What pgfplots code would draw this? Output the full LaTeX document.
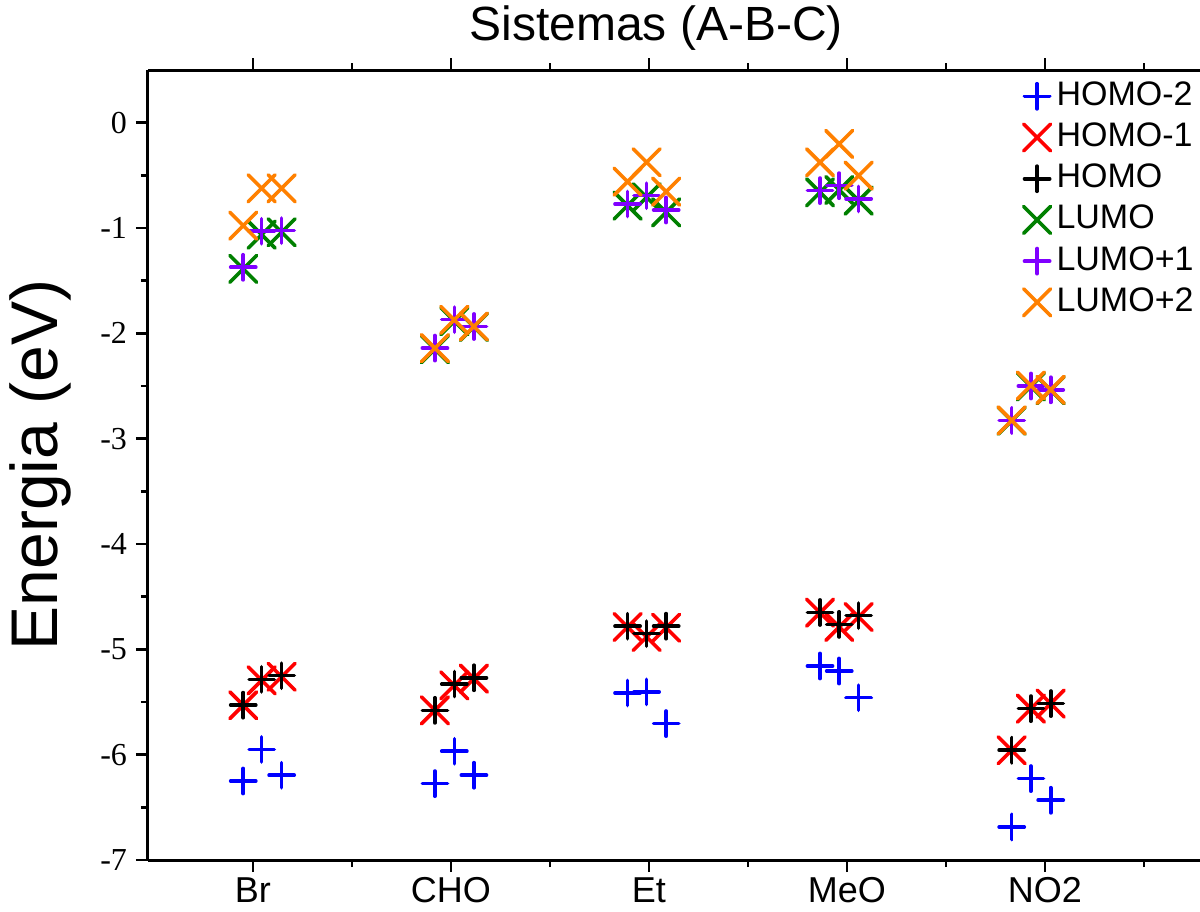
\documentclass[border=0pt]{standalone}
\usepackage{fontspec}
\setmainfont{Liberation Sans}
\newfontfamily\serif{Liberation Serif}
\usepackage{pgfplots}
\usepackage{pgfplotstable}
\pgfplotsset{compat=1.18}

\definecolor{cblue}{RGB}{0,0,255}
\definecolor{cred}{RGB}{255,0,0}
\definecolor{cgreen}{RGB}{0,128,0}
\definecolor{cpurple}{RGB}{128,0,255}
\definecolor{corange}{RGB}{255,128,0}

% Orbital energies (eV) for the A, B, C systems of each substituent
\pgfplotstableread{
x      h2      h1      h       l       l1      l2
0.951  -6.250  -5.531  -5.530  -1.388  -1.373  -0.977
1.044  -5.950  -5.294  -5.285  -1.063  -1.031  -0.623
1.145  -6.195  -5.260  -5.250  -1.040  -1.025  -0.623
1.919  -6.275  -5.579  -5.579  -2.150  -2.140  -2.141
2.017  -5.968  -5.342  -5.330  -1.885  -1.870  -1.872
2.116  -6.195  -5.278  -5.270  -1.940  -1.935  -1.935
2.892  -5.414  -4.788  -4.780  -0.787  -0.772  -0.560
2.988  -5.404  -4.883  -4.851  -0.708  -0.693  -0.376
3.087  -5.705  -4.795  -4.780  -0.851  -0.829  -0.655
3.864  -5.158  -4.652  -4.650  -0.661  -0.645  -0.376
3.961  -5.206  -4.788  -4.763  -0.639  -0.598  -0.202
4.059  -5.459  -4.693  -4.680  -0.740  -0.724  -0.503
4.832  -6.686  -5.958  -5.958  -2.830  -2.827  -2.827
4.929  -6.227  -5.563  -5.563  -2.505  -2.500  -2.495
5.029  -6.433  -5.515  -5.515  -2.540  -2.536  -2.536
}\energias

\begin{document}
\begin{tikzpicture}
\path[use as bounding box] (-74pt,-25.5pt) rectangle (526pt,430pt);
\begin{axis}[
  at={(0,0)}, anchor=south west,
  scale only axis, width=526pt, height=395pt,
  xmin=0.47, xmax=5.783, ymin=-7, ymax=0.5,
  axis x line*=box, axis y line*=left,
  axis line style={line width=1.5pt},
  xtick={1,2,3,4,5},
  xticklabels={Br,CHO,Et,MeO,NO2},
  minor xtick={1.5,2.5,3.5,4.5,5.5},
  xtick pos=both,
  ytick={-7,-6,-5,-4,-3,-2,-1,0},
  yticklabels={-7,-6,-5,-4,-3,-2,-1,0},
  minor ytick={-6.5,-5.5,-4.5,-3.5,-2.5,-1.5,-0.5},
  ytick pos=left,
  tick align=outside,
  major tick length=6pt, minor tick length=3.5pt,
  tick style={line width=1.2pt, black},
  xticklabel style={font=\fontsize{18}{20}\selectfont, text depth=0pt,
    inner ysep=2pt, yshift=-0.5pt},
  yticklabel style={font=\serif\fontsize{16}{18}\selectfont, xshift=-1pt},
  title={Sistemas (A-B-C)},
  title style={font=\fontsize{24}{28}\selectfont, at={(axis description cs:0.483,1)}, anchor=base, yshift=9pt},
  ylabel={Energia (eV)},
  ylabel style={font=\fontsize{33}{36}\selectfont, at={(axis description cs:-0.1027,0.5)}, anchor=center},
  legend cell align=left,
  legend style={draw=none, fill=none, inner sep=0pt,
    at={(axis description cs:0.832,0.99)}, anchor=north west,
    font=\fontsize{17}{20}\selectfont, row sep=2.6pt, column sep=1.5pt,
    nodes={inner sep=1.5pt, text height=12pt, text depth=3pt}},
  every axis plot/.append style={only marks,
    line width=1.8pt, line cap=round},
  plus mark/.style={mark=+, mark size=6.3pt},
  cross mark/.style={mark=x, mark size=9.5pt},
]
\addplot[cblue, plus mark] table[x=x, y=h2] {\energias};
\addlegendentry{HOMO-2}
\addplot[cred, cross mark] table[x=x, y=h1] {\energias};
\addlegendentry{HOMO-1}
\addplot[black, plus mark] table[x=x, y=h] {\energias};
\addlegendentry{HOMO}
\addplot[cgreen, cross mark] table[x=x, y=l] {\energias};
\addlegendentry{LUMO}
\addplot[cpurple, plus mark] table[x=x, y=l1] {\energias};
\addlegendentry{LUMO+1}
\addplot[corange, cross mark] table[x=x, y=l2] {\energias};
\addlegendentry{LUMO+2}
\end{axis}
\end{tikzpicture}
\end{document}
